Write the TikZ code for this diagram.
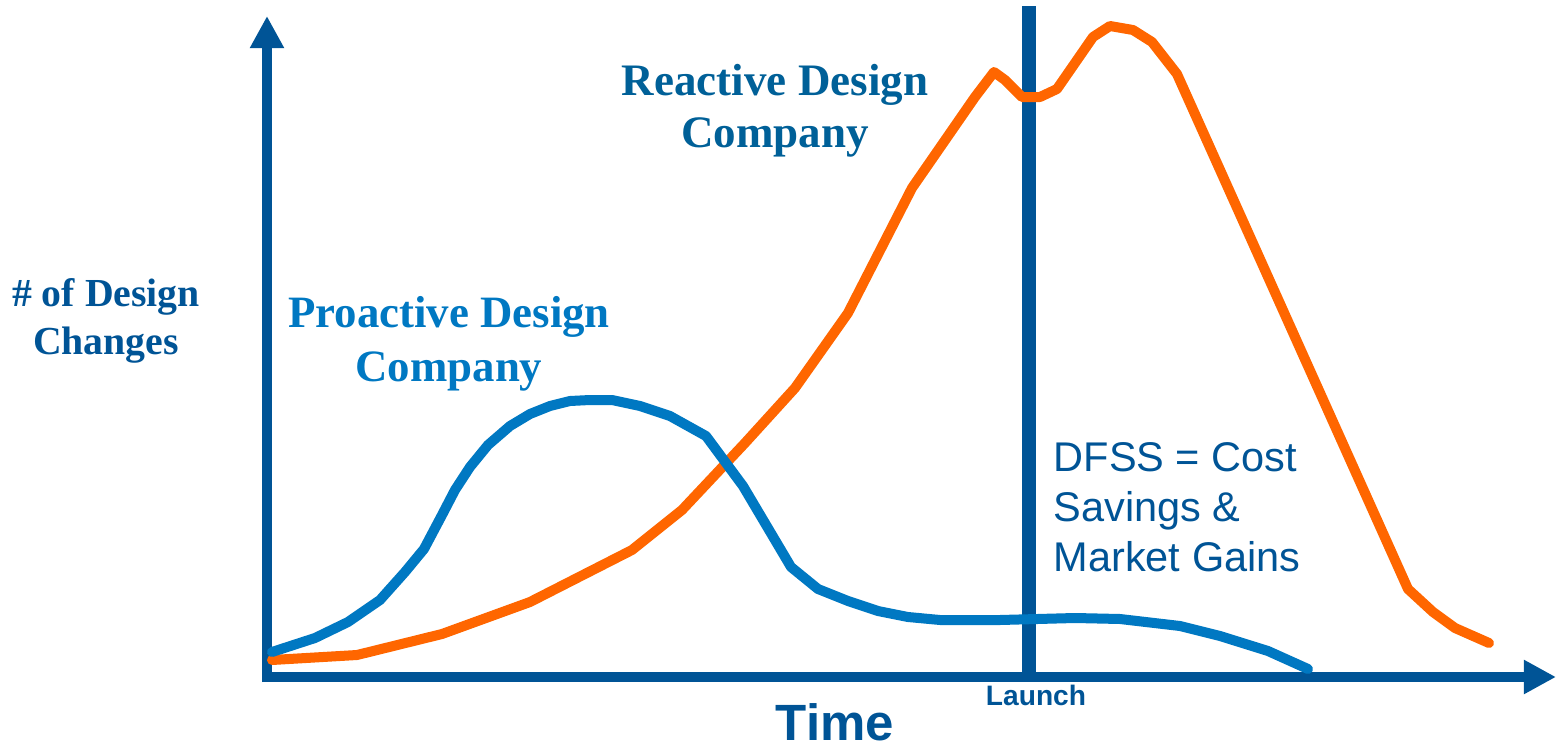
\documentclass[tikz,border=0pt]{standalone}
\usepackage{fontspec}
\setmainfont{Liberation Serif}
\setsansfont{Liberation Sans}
\usetikzlibrary{arrows.meta}

\definecolor{axisblue}{RGB}{0,84,150}
\definecolor{curveblue}{RGB}{0,120,194}
\definecolor{textblue}{RGB}{0,96,152}
\definecolor{curveorange}{RGB}{255,102,0}

\tikzset{
  axis/.style={line width=0.1cm,axisblue,-{Triangle[length=0.32cm,width=0.32cm]}},
  curve/.style={line width=0.1cm,line cap=round,line join=round},
  label/.style={inner sep=0pt,align=center,font=\bfseries}
}

\begin{document}
\begin{tikzpicture}[x=0.01cm,y=-0.01cm]
\useasboundingbox (0,0) rectangle (1556,751);

\coordinate (yfoot) at (267,682);
\coordinate (xfoot) at (262,677);
\coordinate (ytip) at (267,16);
\coordinate (xtip) at (1556,677);
\coordinate (ltop) at (1029,6);
\coordinate (lbot) at (1029,677);

% axes and launch line
\draw[axis] (yfoot) -- (ytip);
\draw[axis] (xfoot) -- (xtip);
\draw[line width=0.14cm,axisblue] (ltop) -- (lbot);

% reactive
\draw[curve,curveorange] (272,660) -- (357,655) -- (442,634) -- (530,602) -- (632,550)
  -- (682,510) -- (745,443) -- (795,388) -- (848,313) -- (912,188) -- (975,97)
  -- (994,72) -- (1005,80) -- (1022,97) -- (1040,97) -- (1057,89) -- (1093,37)
  -- (1110,26) -- (1133,30) -- (1152,42) -- (1177,74) -- (1408,589) -- (1433,612)
  -- (1455,628) -- (1489,643);

% proactive
\draw[curve,curveblue] (272,652) -- (315,638) -- (348,622) -- (380,600) -- (405,572)
  -- (424,549) -- (442,515) -- (455,490) -- (470,467) -- (488,445) -- (510,426)
  -- (530,414) -- (550,406) -- (570,401) -- (590,400) -- (612,400) -- (640,406)
  -- (670,416) -- (706,436) -- (743,486) -- (791,567) -- (818,589) -- (848,601)
  -- (878,611) -- (908,617) -- (940,620) -- (1000,620) -- (1075,618) -- (1120,619)
  -- (1180,626) -- (1220,636) -- (1268,651) -- (1308,669);

\node[label,anchor=north,text=axisblue,font=\bfseries\fontsize{11.3}{13.7}\selectfont] (ylab) at (106,278) {\# of Design\\Changes};
\node[label,anchor=north,text=curveblue,font=\bfseries\fontsize{12.75}{15.4}\selectfont] (pro) at (449,296) {Proactive Design\\Company};
\node[label,anchor=north,text=textblue,font=\bfseries\fontsize{12.8}{14.8}\selectfont] (rea) at (775,64) {Reactive Design\\Company};
\node[inner sep=0pt,anchor=north west,align=left,text=axisblue,font=\sffamily\fontsize{11.8}{14.2}\selectfont] (dfss) at (1053,442) {DFSS = Cost\\Savings \&\\Market Gains};
\node[inner sep=0pt,anchor=base,text=axisblue,font=\sffamily\bfseries\fontsize{8}{9}\selectfont] (launch) at (1036,705) {Launch};
\node[inner sep=0pt,anchor=base,text=axisblue,font=\sffamily\bfseries\fontsize{14.5}{16}\selectfont] (time) at (835,740) {Time};
\end{tikzpicture}
\end{document}
